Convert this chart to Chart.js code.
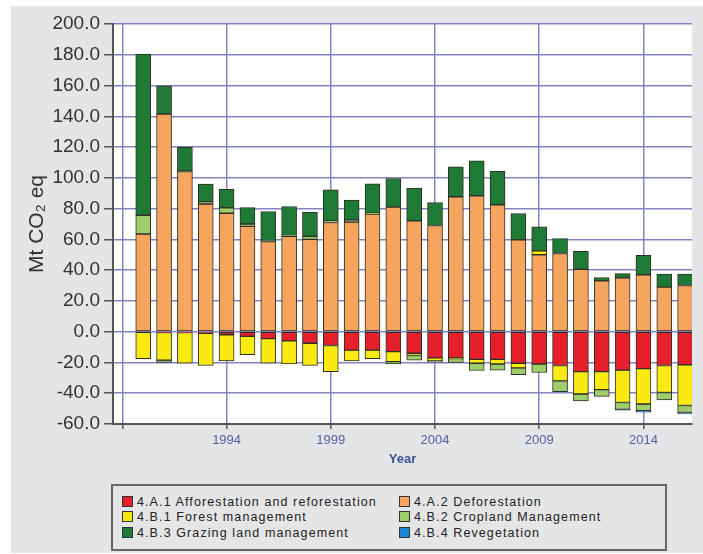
<!DOCTYPE html>
<html>
<head>
<meta charset="utf-8">
<script src="https://cdn.jsdelivr.net/npm/chart.js@4.4.0/dist/chart.umd.min.js"></script>
<style>
  body { margin: 0; background: #fff; font-family: Arial, "Liberation Sans", sans-serif; }
  #wrap { position: absolute; left: 11px; top: 6px; width: 692px; height: 547px; background: #e4e5e7; }
  #legend {
    position: absolute; left: 111px; top: 484px; width: 556px; height: 67px;
    box-sizing: border-box; border: 2px solid #666; background: #e4e5e7;
  }
  .item { position: absolute; font-size: 12.5px; letter-spacing: 1.1px; color: #222; line-height: 14px; white-space: nowrap; }
  .item i { display: inline-block; width: 9px; height: 9px; border: 1px solid #333; margin-right: 4px; vertical-align: -1px; }
</style>
</head>
<body>
<div id="wrap"><canvas id="chart" width="692" height="547"></canvas></div>
<div id="legend"></div>
<script>
const years = [1990, 1991, 1992, 1993, 1994, 1995, 1996, 1997, 1998, 1999, 2000, 2001, 2002, 2003,
  2004, 2005, 2006, 2007, 2008, 2009, 2010, 2011, 2012, 2013, 2014, 2015, 2016];

// 4.A.1 Afforestation and reforestation
const afforestation = [0, -0.5, -0.5, -1, -2, -3, -4.5, -6, -7.5, -9, -12, -12, -13, -14,
  -17, -17, -18, -18, -20.5, -21, -22, -26, -26, -25, -24, -22, -21.5];
// 4.A.2 Deforestation
const deforestation = [63.5, 141.5, 104, 83, 77, 68.5, 58.5, 62, 60, 71, 71.3, 76.5, 81, 72,
  69, 87.7, 88.3, 82.4, 59.7, 50, 50.8, 40.6, 33, 35, 37, 29, 30];
// 4.B.1 Forest management
const forestMgmt = [-17.5, -18, -20, -21, -17, -12, -16, -15, -14.5, -17, -7, -5.5, -6.5, -1.5,
  -2, -0.5, -2.5, -3, -3, 2.5, -10, -14.5, -11.7, -21, -23, -17.5, -26.5];
// 4.B.2 Cropland Management
const croplandMgmt = [12.2, -1.5, 0.5, 1.5, 3.5, 1.5, 0.8, 0.5, 2, 1, 1.3, 0.5, -1.5, -3,
  -0.8, -2.5, -4.7, -4, -4.5, -5.5, -7, -4.5, -4.3, -4.5, -4.3, -4.8, -4.5];
// 4.B.3 Grazing land management
const grazingMgmt = [104.8, 18.3, 15.3, 11.5, 12.1, 10.7, 18.8, 18.9, 15.7, 20.2, 12.9, 19.1, 18.6, 21.3,
  15, 19.5, 22.8, 21.8, 17.1, 15.7, 9.8, 11.7, 2.2, 2.7, 12.7, 8.4, 7.4];
// 4.B.4 Revegetation
const revegetation = [0, 0, 0, 0, 0, 0, 0, 0, 0, 0, 0, 0, 0, 0,
  0, 0, 0, 0, 0, 0, 0, 0, 0, -0.5, -1, 0, -1];

const xTickValues = [1989, 1994, 1999, 2004, 2009, 2014];
const yTickValues = [-60, -40, -20, 0, 20, 40, 60, 80, 100, 120, 140, 160, 180, 200];

const gridBlue = '#8484c4';
const axisGrey = '#555';

const series = [
  { label: '4.A.1 Afforestation and reforestation', data: afforestation, color: '#e5202a' },
  { label: '4.A.2 Deforestation', data: deforestation, color: '#f6a55f' },
  { label: '4.B.1 Forest management', data: forestMgmt, color: '#fbe912' },
  { label: '4.B.2 Cropland Management', data: croplandMgmt, color: '#9fcd6c' },
  { label: '4.B.3 Grazing land management', data: grazingMgmt, color: '#1f7a35' },
  { label: '4.B.4 Revegetation', data: revegetation, color: '#1b87d4' },
];

// white plot area on grey page
const plotBg = {
  id: 'plotBg',
  beforeDraw(chart) {
    const { ctx, chartArea: a } = chart;
    ctx.save();
    ctx.fillStyle = '#e4e5e7';
    ctx.fillRect(0, 0, chart.width, chart.height);
    ctx.fillStyle = '#fffffd';
    ctx.fillRect(a.left, a.top, a.right - a.left, a.bottom - a.top);
    ctx.restore();
  }
};

new Chart(document.getElementById('chart'), {
  type: 'bar',
  data: {
    labels: years,
    datasets: series.map(s => ({
      label: s.label,
      data: s.data,
      backgroundColor: s.color,
      borderColor: '#2e2e26',
      borderWidth: 1,
      borderSkipped: false,
      barThickness: 15,
    }))
  },
  options: {
    responsive: false,
    animation: false,
    layout: { padding: { top: 18, right: 11, left: 0, bottom: 0 } },
    plugins: { legend: { display: false }, tooltip: { enabled: false } },
    scales: {
      x: {
        type: 'linear',
        stacked: true,
        offset: false,
        min: 1988.55,
        max: 2016.33,
        afterBuildTicks: s => { s.ticks = xTickValues.map(v => ({ value: v })); },
        afterFit: s => { s.height = 129; },
        ticks: {
          autoSkip: false,
          maxRotation: 0,
          padding: 4,
          color: '#5462a0',
          font: { family: 'Arial, "Liberation Sans"', size: 13 },
          callback: v => v === 1989 ? '' : String(v),
        },
        grid: { offset: false, color: gridBlue, lineWidth: 1.5, tickColor: axisGrey, tickLength: 5 },
        border: { color: axisGrey, width: 2 },
        title: {
          display: true, text: 'Year', color: '#3f4f98',
          font: { family: 'Arial, "Liberation Sans"', size: 13, weight: 'bold' },
          padding: { top: 0, bottom: 86 }
        }
      },
      y: {
        stacked: true,
        min: -60,
        max: 200,
        afterBuildTicks: s => { s.ticks = yTickValues.map(v => ({ value: v })); },
        afterFit: s => { s.width = 102; },
        ticks: {
          padding: 4,
          color: '#333',
          font: { family: 'Arial, "Liberation Sans"', size: 19 },
          callback: v => v.toFixed(1),
        },
        grid: { color: gridBlue, lineWidth: 1.5, tickColor: axisGrey, tickLength: 9 },
        border: { color: axisGrey, width: 2 },
        title: {
          display: true, text: 'Mt CO₂ eq', color: '#333',
          font: { family: 'Arial, "Liberation Sans"', size: 21 },
          padding: { top: 14, bottom: 0 }
        }
      }
    }
  },
  plugins: [plotBg]
});

// legend in two columns, like the original
const legend = document.getElementById('legend');
series.forEach((s, i) => {
  const col = i % 2, row = Math.floor(i / 2);
  const el = document.createElement('div');
  el.className = 'item';
  el.style.left = (col === 0 ? 9 : 286) + 'px';
  el.style.top = (9 + row * 15.3) + 'px';
  el.innerHTML = `<i style="background:${s.color}"></i>${s.label}`;
  legend.appendChild(el);
});
</script>
</body>
</html>
